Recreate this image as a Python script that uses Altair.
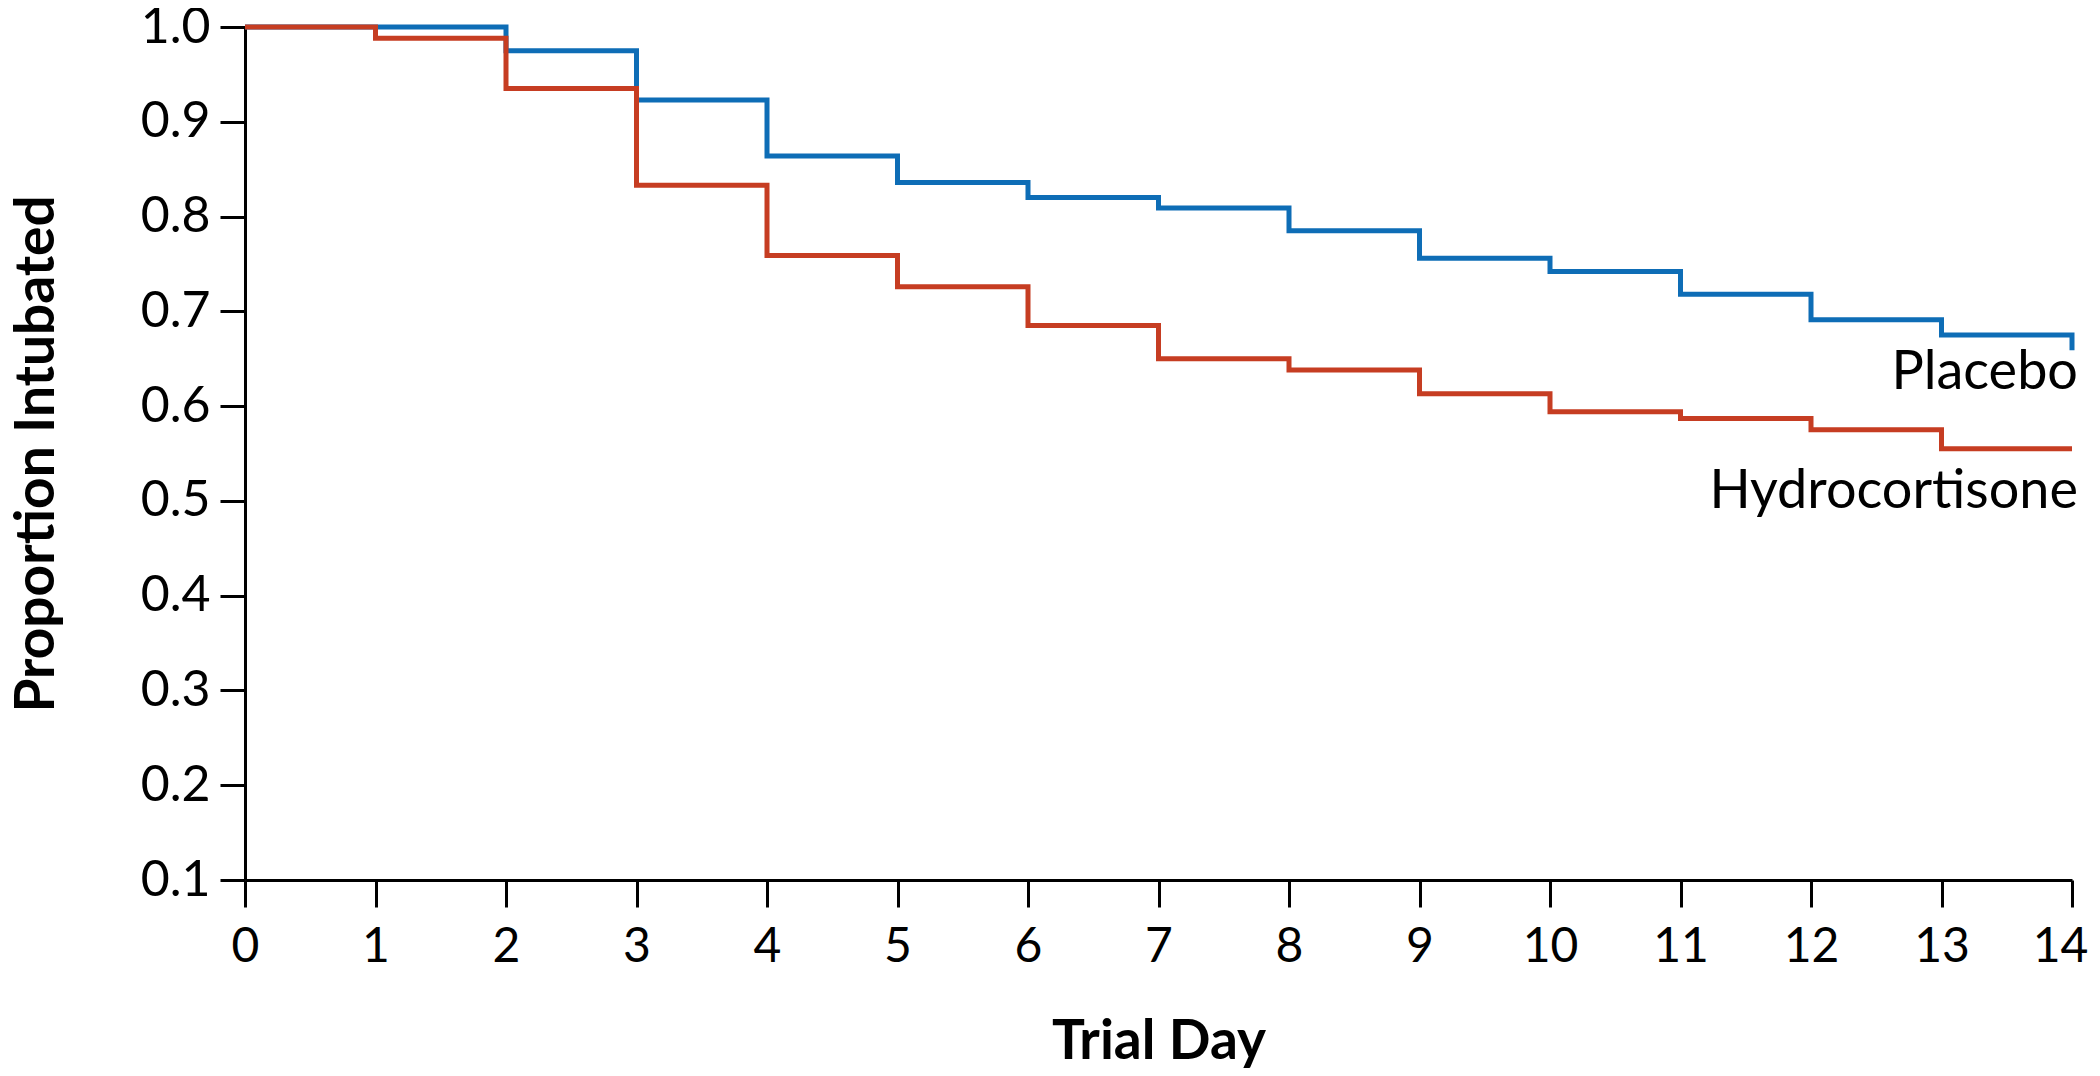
import altair as alt
import pandas as pd

days = list(range(15))
placebo = [1.0, 1.0, 0.975, 0.923, 0.864, 0.836, 0.820, 0.809, 0.785, 0.756, 0.742, 0.718, 0.691, 0.675, 0.659]
hydrocortisone = [1.0, 0.988, 0.935, 0.833, 0.759, 0.726, 0.685, 0.650, 0.638, 0.613, 0.594, 0.587, 0.575, 0.555, 0.555]
groups = ["Placebo", "Hydrocortisone"]
colors = ["#0E6DB6", "#C63D22"]
x_ticks = list(range(15))
y_ticks = [0.1, 0.2, 0.3, 0.4, 0.5, 0.6, 0.7, 0.8, 0.9, 1.0]

label_text = ["Placebo", "Hydrocortisone"]
label_day = [14, 14]
label_val = [0.618, 0.493]

rows = []
for g, vals in zip(groups, [placebo, hydrocortisone]):
    for d, v in zip(days, vals):
        rows.append({"day": d, "value": v, "group": g})
df = pd.DataFrame(rows)
lab = pd.DataFrame({"label": label_text, "day": label_day, "value": label_val})

FONT = "Lato"

xscale = alt.Scale(domain=[0, 14], nice=False, zero=False)
yscale = alt.Scale(domain=[0.1, 1.0], nice=False, zero=False)

xaxis = alt.Axis(
    values=x_ticks, format="d", title="Trial Day", grid=False,
    tickSize=27, labelPadding=16, labelFlush=False, labelOverlap=False,
    labelFontSize=48,
    labelOffset={"condition": {"test": "datum.value == 14", "value": -12}, "value": 0},
    titleX=913.5, titleY=178, titleAlign="center", titleBaseline="alphabetic",
)
yaxis = alt.Axis(
    values=y_ticks, format=".1f", title="Proportion Intubated", grid=False,
    tickSize=25, labelPadding=10, labelFlush=False, labelOverlap=False,
    labelFontSize=50,
    titleX=-192, titleY=426.5, titleAngle=-90,
    titleAlign="center", titleBaseline="alphabetic",
)

lines = alt.Chart(df).mark_line(interpolate="step-after", strokeWidth=5).encode(
    x=alt.X("day:Q", scale=xscale, axis=xaxis),
    y=alt.Y("value:Q", scale=yscale, axis=yaxis),
    color=alt.Color("group:N", scale=alt.Scale(domain=groups, range=colors), legend=None),
    detail="group:N",
)
placebo_line = lines.transform_filter(alt.datum.group == "Placebo")
hydro_line = lines.transform_filter(alt.datum.group == "Hydrocortisone")

texts = alt.Chart(lab).mark_text(
    align="right", baseline="alphabetic", font=FONT, fontSize=54, color="black", dx=6
).encode(
    x=alt.X("day:Q", scale=xscale),
    y=alt.Y("value:Q", scale=yscale),
    text="label:N",
)

chart = alt.layer(placebo_line, hydro_line, texts).properties(
    width=1827, height=853,
    autosize=alt.AutoSizeParams(type="none"),
    padding={"left": 237, "top": 19, "right": 20, "bottom": 194},
).configure_view(stroke=None).configure_axis(
    domainColor="black", domainWidth=3, tickColor="black", tickWidth=3,
    labelFont=FONT, labelColor="black",
    titleFont=FONT, titleFontSize=55, titleFontWeight="bold", titleColor="black",
)

chart.save("out.html", embed_options={"renderer": "svg", "actions": False})
